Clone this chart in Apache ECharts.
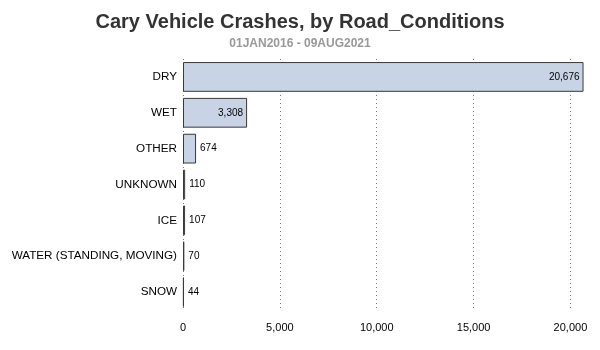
<!DOCTYPE html>
<html><head><meta charset="utf-8">
<script src="https://cdn.jsdelivr.net/npm/echarts@6/dist/echarts.min.js"></script>
<style>html,body{margin:0;padding:0;background:#fff}#c{width:600px;height:350px}</style>
</head><body><div id="c"></div>
<script>
var categories = ["DRY","WET","OTHER","UNKNOWN","ICE","WATER (STANDING, MOVING)","SNOW"];
var values = [20676, 3308, 674, 110, 107, 70, 44];
var xTicks = [0, 5000, 10000, 15000, 20000];

var chart = echarts.init(document.getElementById('c'));
var data = values.map(function(v){
  return {value: v, label: {position: v > 2000 ? 'insideRight' : 'right'}};
});
chart.setOption({
  animation: false,
  title: {
    text: 'Cary Vehicle Crashes, by Road_Conditions',
    subtext: '01JAN2016 - 09AUG2021',
    left: 'center', top: 7, itemGap: 6,
    textStyle: {fontFamily: 'Liberation Sans', fontSize: 20, fontWeight: 'bold', color: '#333333'},
    subtextStyle: {fontFamily: 'Liberation Sans', fontSize: 12, fontWeight: 'bold', color: '#999999'}
  },
  grid: {left: 183, right: 16, top: 59, bottom: 40},
  xAxis: {
    type: 'value', min: 0, max: 20700, interval: 5000,
    axisLine: {show: false}, axisTick: {show: false},
    axisLabel: {showMaxLabel: false, color: '#000', fontFamily: 'Liberation Sans', fontSize: 11, margin: 12,
      formatter: function(v){ return xTicks.indexOf(v) >= 0 ? v.toLocaleString('en-US') : ''; }},
    splitLine: {show: true, showMaxLine: false, lineStyle: {type: [1, 3], color: '#777', width: 1}}
  },
  yAxis: {
    type: 'category', data: categories, inverse: true,
    axisLine: {show: false}, axisTick: {show: false},
    axisLabel: {color: '#000', fontFamily: 'Liberation Sans', fontSize: 11.7, margin: 6}
  },
  series: [{
    type: 'bar', data: data, barCategoryGap: '17%',
    itemStyle: {color: '#c8d4e6', borderColor: '#3a3a3a', borderWidth: 1},
    label: {show: true, color: '#000', fontFamily: 'Liberation Sans', fontSize: 10, distance: 4,
      formatter: function(p){ return p.value.toLocaleString('en-US'); }}
  }]
});
</script></body></html>
